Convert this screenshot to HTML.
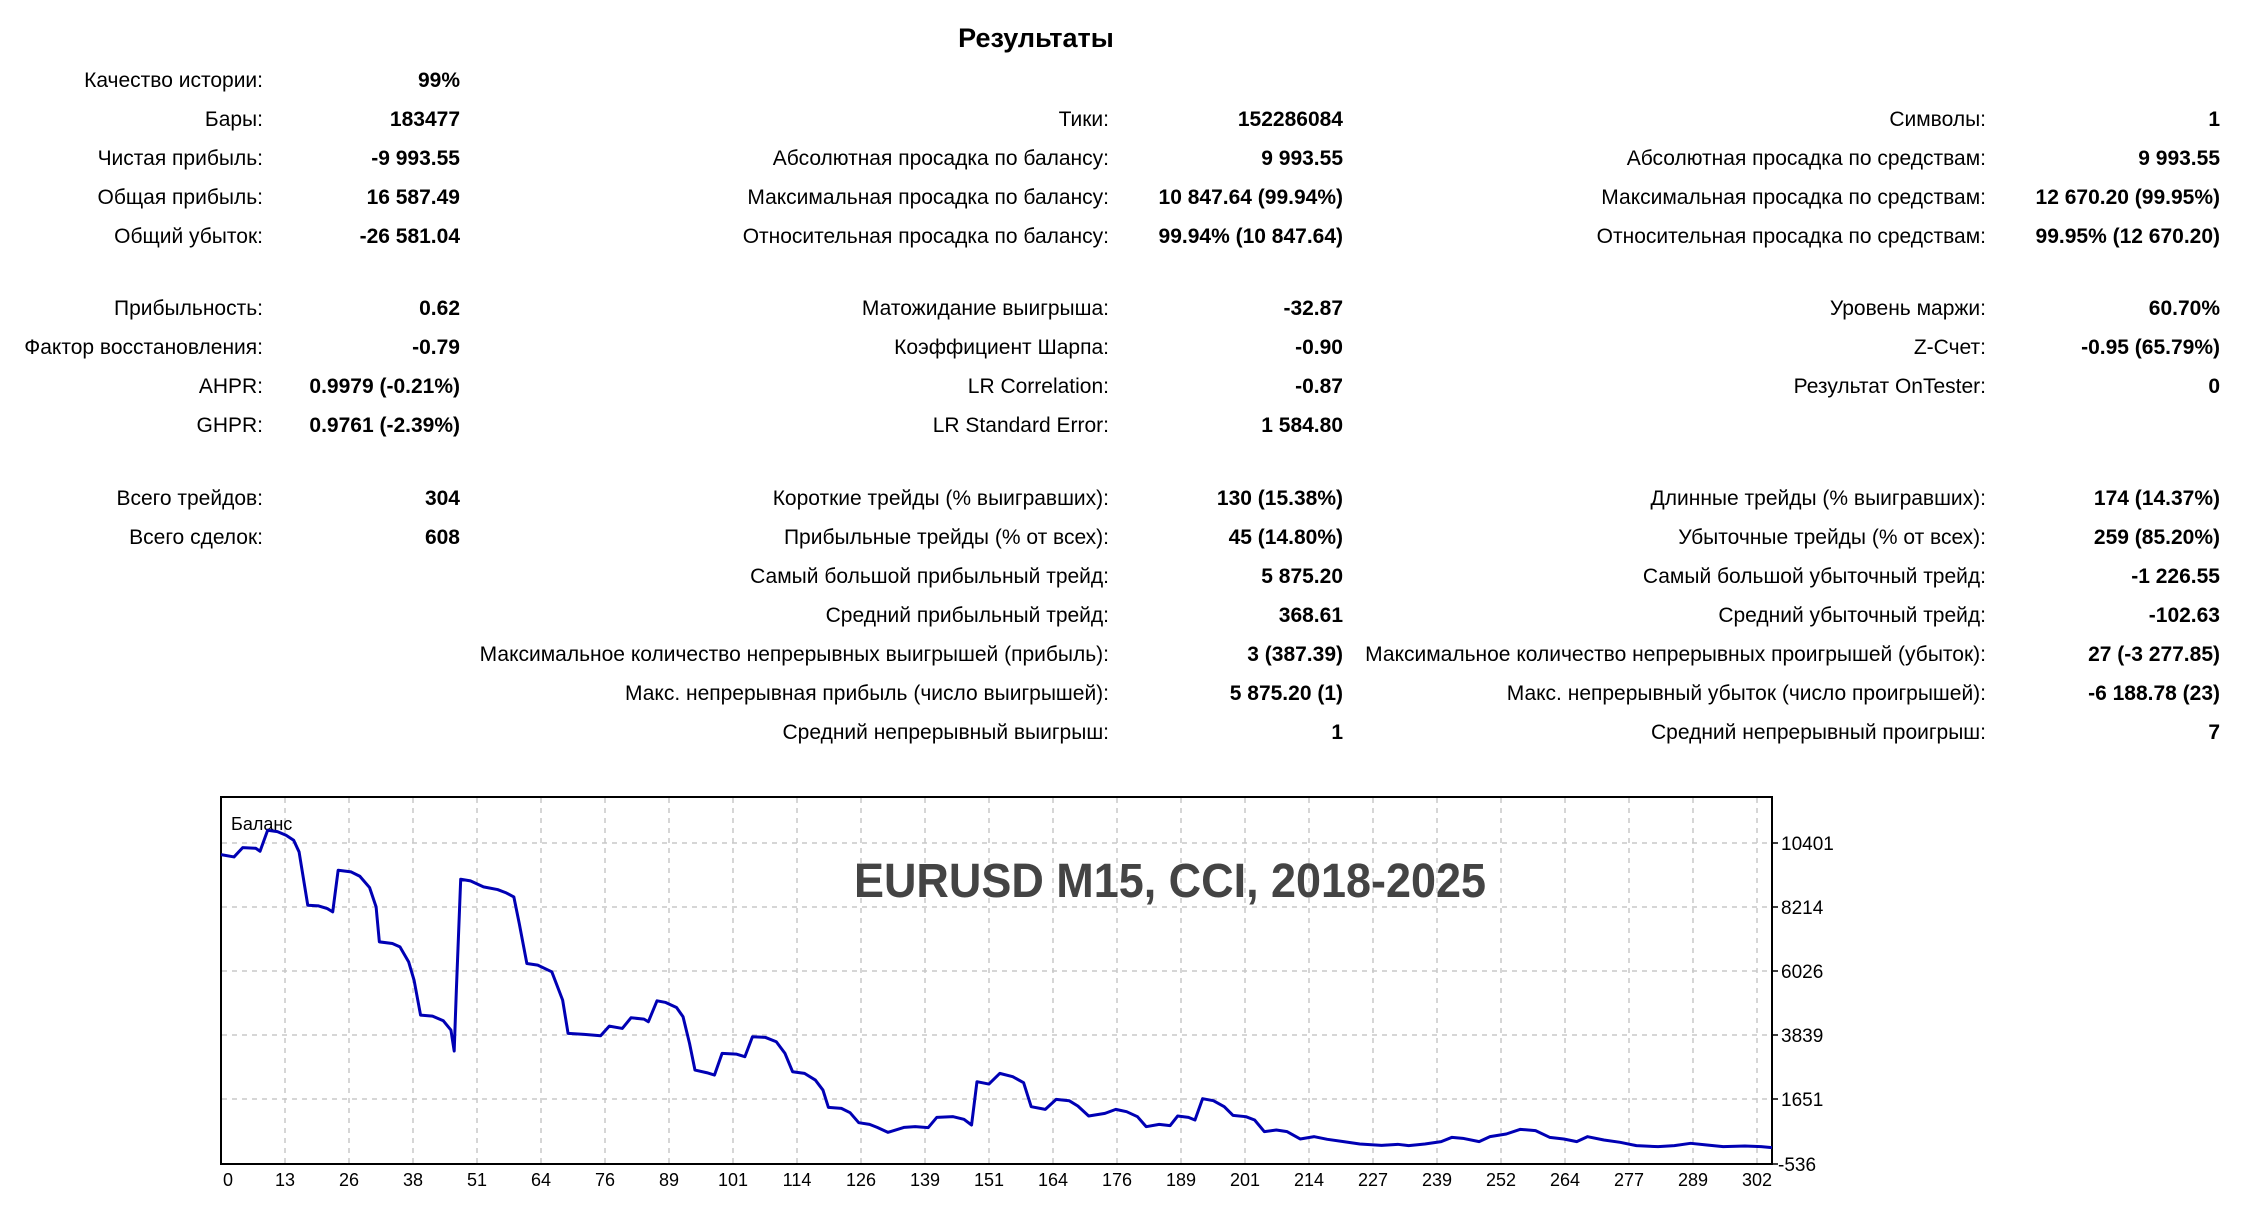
<!DOCTYPE html>
<html><head><meta charset="utf-8"><style>
body{margin:0;width:2267px;height:1210px;background:#fff;position:relative;overflow:hidden;font-family:"Liberation Sans","DejaVu Sans",sans-serif;color:#000}
.t{position:absolute;font-size:21px;white-space:nowrap;line-height:24px}
.r{text-align:right}
.b{font-weight:bold}
</style></head><body>
<div class="t b" style="left:836px;width:400px;text-align:center;top:22px;font-size:27px;line-height:32px">Результаты</div>
<div id="c"></div>
<svg width="2267" height="1210" style="position:absolute;left:0;top:0">
<g stroke="#c8c8c8" stroke-width="1.5" stroke-dasharray="5 5">
<line x1="285" y1="798" x2="285" y2="1163"/><line x1="349" y1="798" x2="349" y2="1163"/><line x1="413" y1="798" x2="413" y2="1163"/><line x1="477" y1="798" x2="477" y2="1163"/><line x1="541" y1="798" x2="541" y2="1163"/><line x1="605" y1="798" x2="605" y2="1163"/><line x1="669" y1="798" x2="669" y2="1163"/><line x1="733" y1="798" x2="733" y2="1163"/><line x1="797" y1="798" x2="797" y2="1163"/><line x1="861" y1="798" x2="861" y2="1163"/><line x1="925" y1="798" x2="925" y2="1163"/><line x1="989" y1="798" x2="989" y2="1163"/><line x1="1053" y1="798" x2="1053" y2="1163"/><line x1="1117" y1="798" x2="1117" y2="1163"/><line x1="1181" y1="798" x2="1181" y2="1163"/><line x1="1245" y1="798" x2="1245" y2="1163"/><line x1="1309" y1="798" x2="1309" y2="1163"/><line x1="1373" y1="798" x2="1373" y2="1163"/><line x1="1437" y1="798" x2="1437" y2="1163"/><line x1="1501" y1="798" x2="1501" y2="1163"/><line x1="1565" y1="798" x2="1565" y2="1163"/><line x1="1629" y1="798" x2="1629" y2="1163"/><line x1="1693" y1="798" x2="1693" y2="1163"/><line x1="1757" y1="798" x2="1757" y2="1163"/>
<line x1="222" y1="843" x2="1771" y2="843"/><line x1="222" y1="907" x2="1771" y2="907"/><line x1="222" y1="971" x2="1771" y2="971"/><line x1="222" y1="1035" x2="1771" y2="1035"/><line x1="222" y1="1099" x2="1771" y2="1099"/>
</g>
<rect x="221" y="797" width="1551" height="367" fill="none" stroke="#000" stroke-width="2"/>
<g stroke="#000" stroke-width="1.5"><line x1="1772" y1="843" x2="1778" y2="843"/><line x1="1772" y1="907" x2="1778" y2="907"/><line x1="1772" y1="971" x2="1778" y2="971"/><line x1="1772" y1="1035" x2="1778" y2="1035"/><line x1="1772" y1="1099" x2="1778" y2="1099"/><line x1="1772" y1="1164" x2="1778" y2="1164"/></g>
<text x="231" y="830" font-size="18" font-family="Liberation Sans, sans-serif">Баланс</text>
<text x="1170" y="897" font-size="48" font-weight="bold" fill="#444" text-anchor="middle" textLength="632" lengthAdjust="spacingAndGlyphs" font-family="Liberation Sans, sans-serif">EURUSD M15, CCI, 2018-2025</text>
<g transform="translate(221,797) scale(1.0846,0.333) translate(-20,-20)">
<polyline fill="none" stroke="#0000b4" stroke-width="3" vector-effect="non-scaling-stroke" stroke-linejoin="round" points="20,193 32,200 40,172 52,174 56,183 63,120 72,124 80,135 87,150 92,185 100,345 110,347 118,355 123,365 128,240 140,245 148,258 157,292 163,350 166,455 178,460 185,470 193,515 198,570 204,675 215,678 225,692 232,720 235,783 237,600 241,267 250,272 262,290 275,298 283,308 290,320 295,400 302,520 312,525 325,545 335,630 340,730 355,733 370,737 378,708 390,715 398,683 410,687 414,695 422,632 430,637 440,652 446,680 452,760 457,840 468,848 475,855 482,790 495,792 503,800 510,740 522,742 532,755 540,790 547,845 558,850 568,870 575,900 580,952 592,955 600,968 608,998 618,1003 625,1012 635,1027 650,1012 660,1010 672,1013 680,982 695,980 705,988 712,1005 717,875 728,882 738,850 750,860 760,878 767,950 780,958 790,928 802,932 810,948 820,978 835,970 845,958 855,965 865,980 873,1010 885,1003 895,1007 902,978 912,982 918,990 925,926 935,932 945,950 953,976 965,980 973,990 982,1025 993,1020 1003,1025 1015,1047 1028,1040 1040,1048 1055,1055 1070,1062 1090,1066 1105,1063 1115,1067 1130,1062 1145,1055 1155,1042 1165,1045 1180,1055 1190,1040 1205,1032 1218,1018 1232,1022 1245,1042 1258,1047 1270,1055 1280,1040 1295,1050 1310,1057 1325,1067 1345,1070 1360,1067 1375,1060 1390,1065 1405,1070 1425,1068 1440,1070 1450,1073"/>
</g>
<g font-size="19" font-family="Liberation Sans, sans-serif">
<text x="1781" y="850">10401</text><text x="1781" y="914">8214</text><text x="1781" y="978">6026</text><text x="1781" y="1042">3839</text><text x="1781" y="1106">1651</text><text x="1778" y="1171">-536</text>
</g>
<g font-size="18" font-family="Liberation Sans, sans-serif" text-anchor="middle">
<text x="228" y="1186">0</text><text x="285" y="1186">13</text><text x="349" y="1186">26</text><text x="413" y="1186">38</text><text x="477" y="1186">51</text><text x="541" y="1186">64</text><text x="605" y="1186">76</text><text x="669" y="1186">89</text><text x="733" y="1186">101</text><text x="797" y="1186">114</text><text x="861" y="1186">126</text><text x="925" y="1186">139</text><text x="989" y="1186">151</text><text x="1053" y="1186">164</text><text x="1117" y="1186">176</text><text x="1181" y="1186">189</text><text x="1245" y="1186">201</text><text x="1309" y="1186">214</text><text x="1373" y="1186">227</text><text x="1437" y="1186">239</text><text x="1501" y="1186">252</text><text x="1565" y="1186">264</text><text x="1629" y="1186">277</text><text x="1693" y="1186">289</text><text x="1757" y="1186">302</text>
</g>
</svg>
<script>
var rows=[
[69,"Качество истории:","99%"],
[108,"Бары:","183477","Тики:","152286084","Символы:","1"],
[147,"Чистая прибыль:","-9 993.55","Абсолютная просадка по балансу:","9 993.55","Абсолютная просадка по средствам:","9 993.55"],
[186,"Общая прибыль:","16 587.49","Максимальная просадка по балансу:","10 847.64 (99.94%)","Максимальная просадка по средствам:","12 670.20 (99.95%)"],
[225,"Общий убыток:","-26 581.04","Относительная просадка по балансу:","99.94% (10 847.64)","Относительная просадка по средствам:","99.95% (12 670.20)"],
[297,"Прибыльность:","0.62","Матожидание выигрыша:","-32.87","Уровень маржи:","60.70%"],
[336,"Фактор восстановления:","-0.79","Коэффициент Шарпа:","-0.90","Z-Счет:","-0.95 (65.79%)"],
[375,"AHPR:","0.9979 (-0.21%)","LR Correlation:","-0.87","Результат OnTester:","0"],
[414,"GHPR:","0.9761 (-2.39%)","LR Standard Error:","1 584.80"],
[487,"Всего трейдов:","304","Короткие трейды (% выигравших):","130 (15.38%)","Длинные трейды (% выигравших):","174 (14.37%)"],
[526,"Всего сделок:","608","Прибыльные трейды (% от всех):","45 (14.80%)","Убыточные трейды (% от всех):","259 (85.20%)"],
[565,"","","Самый большой прибыльный трейд:","5 875.20","Самый большой убыточный трейд:","-1 226.55"],
[604,"","","Средний прибыльный трейд:","368.61","Средний убыточный трейд:","-102.63"],
[643,"","","Максимальное количество непрерывных выигрышей (прибыль):","3 (387.39)","Максимальное количество непрерывных проигрышей (убыток):","27 (-3 277.85)"],
[682,"","","Макс. непрерывная прибыль (число выигрышей):","5 875.20 (1)","Макс. непрерывный убыток (число проигрышей):","-6 188.78 (23)"],
[721,"","","Средний непрерывный выигрыш:","1","Средний непрерывный проигрыш:","7"]];
var cols=[263,460,1109,1343,1986,2220],h="";
rows.forEach(function(r){for(var i=1;i<r.length;i++){if(!r[i])continue;var R=cols[i-1];h+='<div class="t r'+(i%2==0?' b':'')+'" style="right:'+(2267-R)+'px;top:'+r[0]+'px">'+r[i]+'</div>';}});
document.getElementById('c').innerHTML=h;
</script>
</body></html>
